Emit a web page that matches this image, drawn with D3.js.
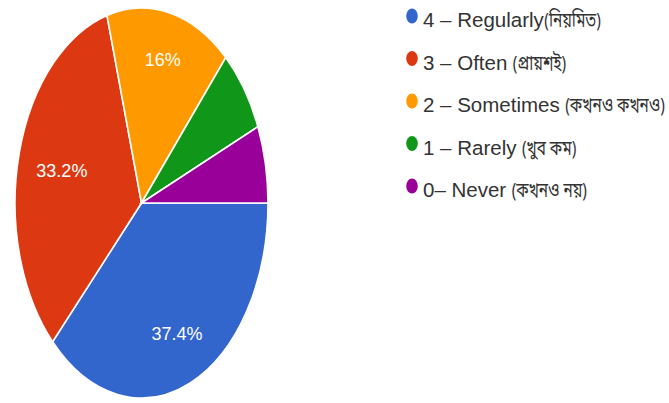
<!DOCTYPE html>
<html>
<head>
<meta charset="utf-8">
<script src="https://cdn.jsdelivr.net/npm/d3@7"></script>
<style>
  html, body { margin: 0; padding: 0; background: #ffffff; }
  svg { display: block; }
</style>
</head>
<body>
<svg id="chart" width="669" height="403"></svg>
<script>
// ---- data ----
const categories = [
  "4 – Regularly(নিয়মিত)",
  "3 – Often (প্রায়শই)",
  "2 – Sometimes (কখনও কখনও)",
  "1 – Rarely (খুব কম)",
  "0– Never (কখনও নয়)"
];
const values = [37.4, 33.2, 16.0, 7.0, 6.4];
const shownLabels = ["37.4%", "33.2%", "16%", "", ""];
const colors = ["#3366cc", "#dc3912", "#ff9900", "#109618", "#990099"];

// ---- layout ----
const svg = d3.select("#chart");
const cx = 141.5, cy = 203, rx = 126.5, ry = 195;
const sy = ry / rx;

const pie = d3.pie().sort(null)
  .startAngle(Math.PI / 2)
  .endAngle(Math.PI / 2 + 2 * Math.PI);
const arcs = pie(values);
const arc = d3.arc().innerRadius(0).outerRadius(rx);

const pieG = svg.append("g")
  .attr("transform", `translate(${cx},${cy}) scale(1,${sy})`);
pieG.selectAll("path")
  .data(arcs)
  .enter().append("path")
  .attr("d", arc)
  .attr("fill", (d, i) => colors[i])
  .attr("stroke", "#ffffff")
  .attr("stroke-width", 1.6)
  .attr("vector-effect", "non-scaling-stroke");

// slice labels
const labelG = svg.append("g").attr("transform", `translate(${cx},${cy})`);
arcs.forEach((d, i) => {
  if (!shownLabels[i]) return;
  const t = labelG.append("text")
    .attr("text-anchor", "middle")
    .attr("dominant-baseline", "central")
    .attr("fill", "#ffffff")
    .attr("font-family", "'Liberation Sans', Arial, sans-serif")
    .attr("font-size", 18)
    .text(shownLabels[i]);
  const w = t.node().getComputedTextLength();
  const h = 13;
  let f = 0.75, x = 0, y = 0;
  for (; f > 0.3; f -= 0.01) {
    const la = d3.arc().innerRadius(rx * f).outerRadius(rx * f);
    const c = la.centroid(d);
    x = c[0]; y = c[1] * sy;
    const corners = [[x - w/2, y - h/2], [x + w/2, y - h/2], [x - w/2, y + h/2], [x + w/2, y + h/2]];
    const maxR = d3.max(corners, p => Math.hypot(p[0] / rx, p[1] / ry));
    if (maxR <= 0.86) break;
  }
  t.attr("x", x).attr("y", y);
});

// legend
const legendX = 412, legendY0 = 15, legendStep = 42.5;
const textX = 423;
const bengScaleX = 0.75;
const leg = svg.append("g");
categories.forEach((c, i) => {
  const yy = legendY0 + i * legendStep;
  const base = yy + 12;
  leg.append("ellipse")
    .attr("cx", legendX).attr("cy", yy + 1)
    .attr("rx", 5.8).attr("ry", 7.5)
    .attr("fill", colors[i]);
  const idx = c.search(/\([\u0980-\u09FF]/);
  const latin = idx >= 0 ? c.slice(0, idx).replace(/\s+$/, "") : c;
  const gap = idx > 0 && c[idx - 1] === " " ? 5.5 : 0.5;
  const beng = idx >= 0 ? c.slice(idx) : "";
  const tl = leg.append("text")
    .attr("x", textX).attr("y", base)
    .attr("fill", "#333333")
    .attr("font-family", "'Liberation Sans', Arial, sans-serif")
    .attr("font-size", 20.5)
    .text(latin);
  const wl = tl.node().getComputedTextLength();
  if (beng) {
    leg.append("text")
      .attr("transform", `translate(${textX + wl + gap},${base}) scale(${bengScaleX},1)`)
      .attr("fill", "#333333")
      .attr("font-family", "'Noto Sans Bengali', 'Liberation Sans', sans-serif")
      .attr("font-size", 20.5)
      .text(beng);
  }
});
</script>
</body>
</html>
